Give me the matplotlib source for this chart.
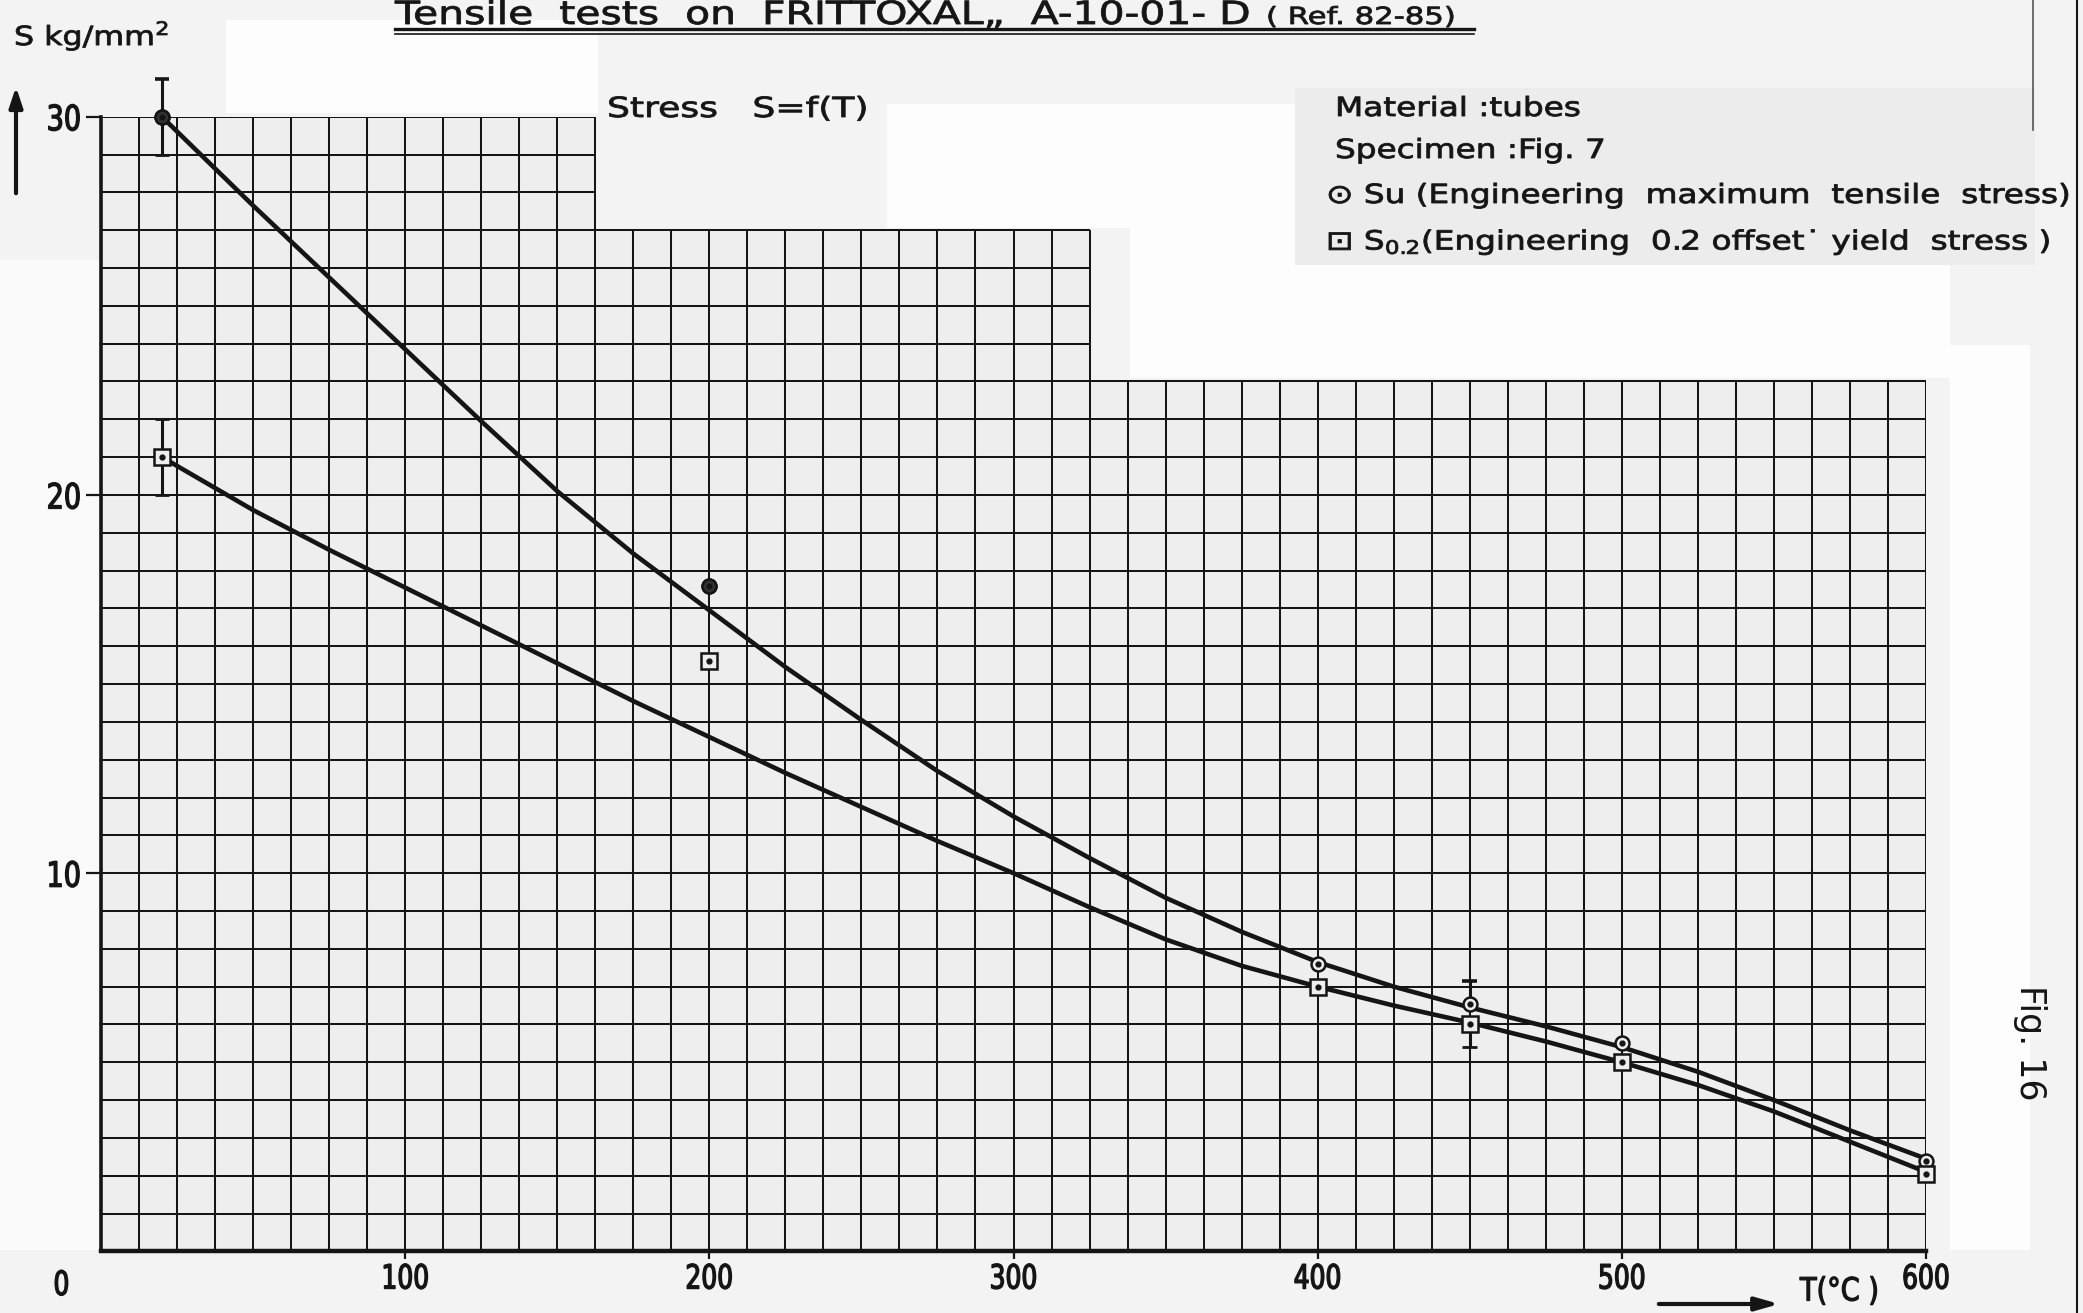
import matplotlib
matplotlib.use('Agg')
import matplotlib.pyplot as plt
from matplotlib.patches import Rectangle, FancyArrowPatch
from matplotlib.lines import Line2D
from matplotlib.patheffects import AbstractPathEffect
from matplotlib.transforms import Affine2D

# Measured points (temperature in deg C, stress in kg/mm2)
temps = [20, 200, 400, 450, 500, 600]
su_pts = [30.0, 17.6, 7.6, 6.55, 5.5, 2.4]
s02_pts = [21.0, 15.6, 7.0, 6.0, 5.0, 2.05]

# Scatter bands drawn as error bars
su_err_T = [20, 450]
su_err_low = [29.0, 6.55]
su_err_high = [31.0, 7.15]
s02_err_T = [20, 450]
s02_err_low = [20.0, 5.4]
s02_err_high = [22.0, 6.0]

# Hand drawn fitted curves
curve_T = [20, 50, 75, 100, 125, 150, 175, 200, 225, 250, 275, 300,
           325, 350, 375, 400, 425, 450, 475, 500, 525, 550, 575, 600]
su_curve = [30.0, 27.65, 25.75, 23.85, 21.95, 20.1, 18.45, 16.95, 15.45,
            14.05, 12.7, 11.5, 10.4, 9.35, 8.45, 7.65, 7.0, 6.45, 5.95,
            5.4, 4.75, 4.0, 3.2, 2.45]
s02_curve = [21.0, 19.6, 18.55, 17.55, 16.55, 15.55, 14.55, 13.6, 12.65,
             11.75, 10.85, 10.0, 9.1, 8.25, 7.55, 7.0, 6.5, 6.05, 5.55, 5.0,
             4.4, 3.7, 2.9, 2.1]

# Graph paper outline (stepped top edge)
paper_T = [0, 162.5, 162.5, 325, 325, 600]
paper_top = [30, 30, 27, 27, 23, 23]

x_ticks = [100, 200, 300, 400, 500, 600]
y_ticks = [10, 20, 30]

W, H = 2083, 1313
INK = '#151515'
PAPER = '#eeeeee'

plt.rcParams['font.family'] = ['DejaVu Sans']


# Stretch text horizontally (the drawing lettering is wider / narrower
# than any installed face) and give it a little more pen weight.
class Stretch(AbstractPathEffect):
    def __init__(self, sx, anchor='left', stroke=0.6):
        super().__init__()
        self.sx = sx
        self.anchor = anchor
        self.stroke = stroke

    def draw_path(self, renderer, gc, tpath, affine, rgbFace=None):
        ext = tpath.get_extents()
        if self.anchor == 'center':
            x0 = (ext.x0 + ext.x1) / 2
        elif self.anchor == 'right':
            x0 = ext.x1
        else:
            x0 = 0
        st = Affine2D().translate(-x0, 0).scale(self.sx, 1).translate(x0, 0)
        gc0 = renderer.new_gc()
        gc0.copy_properties(gc)
        gc0.set_linewidth(self.stroke)
        gc0.set_foreground(INK)
        gc0.set_joinstyle('round')
        renderer.draw_path(gc0, tpath, st + affine, rgbFace)
        gc0.restore()


def fx(px):
    return px / W


def fy(py):
    return 1 - py / H


fig = plt.figure(figsize=(W / 100, H / 100), dpi=100, facecolor='#f3f3f3')

# Light patches of the scanned page
for x0, y0, x1, y1, c in [(226, 20, 598, 113, '#fdfdfd'),
                          (887, 104, 1295, 228, '#fdfdfd'),
                          (1130, 228, 1950, 378, '#fdfdfd'),
                          (1950, 345, 2030, 1250, '#fdfdfd'),
                          (0, 260, 100, 1250, '#fafafa'),
                          (1295, 88, 2035, 265, '#ececec')]:
    fig.add_artist(Rectangle((fx(x0), fy(y1)), fx(x1 - x0), (y1 - y0) / H,
                             transform=fig.transFigure, color=c, lw=0,
                             zorder=0))

ax = fig.add_axes([fx(101), fy(1251.4), fx(1926 - 101), (1251.4 - 116.7) / H])
ax.set_facecolor('none')
ax.set_xlim(0, 600)
ax.set_ylim(0, 30)

# Graph paper
ax.fill_between(paper_T, 0, paper_top, color=PAPER, lw=0, zorder=0)
t = 0.0
while t <= 600:
    top = 30 if t <= 162.5 else (27 if t <= 325 else 23)
    ax.vlines(t, 0, top, color=INK, lw=1.45, zorder=1)
    t += 12.5
for s in range(1, 31):
    right = 600 if s <= 23 else (325 if s <= 27 else 162.5)
    ax.hlines(s, 0, right, color=INK, lw=1.45, zorder=1)

for side in ['top', 'right']:
    ax.spines[side].set_visible(False)
ax.spines['bottom'].set_linewidth(3.2)
ax.spines['left'].set_linewidth(2.6)
ax.spines['bottom'].set_color(INK)
ax.spines['left'].set_color(INK)
ax.spines['left'].set_bounds(0, 30)

ax.set_xticks(x_ticks)
ax.set_xticklabels([str(v) for v in x_ticks])
ax.set_yticks(y_ticks)
ax.set_yticklabels([str(v) for v in y_ticks])
ax.tick_params(axis='x', length=6, width=1.6, color=INK, pad=2,
               labelsize=24, labelcolor=INK)
ax.tick_params(axis='y', length=11, width=1.6, color=INK, pad=3,
               labelsize=25, labelcolor=INK)
for lab in ax.get_xticklabels():
    lab.set_path_effects([Stretch(0.75, 'center', 1.0)])
for lab in ax.get_yticklabels():
    lab.set_path_effects([Stretch(0.78, 'right', 1.0)])
ax.text(-13, -0.9, '0', ha='center', va='center', fontsize=24, color=INK,
        clip_on=False, path_effects=[Stretch(0.75, 'center', 1.0)])

# Curves
ax.plot(curve_T, su_curve, color=INK, lw=3.3, zorder=3,
        solid_capstyle='round', solid_joinstyle='round', clip_on=False)
ax.plot(curve_T, s02_curve, color=INK, lw=3.3, zorder=3,
        solid_capstyle='round', solid_joinstyle='round', clip_on=False)

# Scatter bands
for T, lo, hi in zip(su_err_T + s02_err_T, su_err_low + s02_err_low,
                     su_err_high + s02_err_high):
    ax.vlines(T, lo, hi, color=INK, lw=2.2, zorder=4, clip_on=False)
ax.hlines(su_err_high, [v - 2.4 for v in su_err_T],
          [v + 2.4 for v in su_err_T], color=INK, lw=2.6, zorder=4,
          clip_on=False)
ax.hlines(su_err_low[:1], [v - 2.4 for v in su_err_T[:1]],
          [v + 2.4 for v in su_err_T[:1]], color=INK, lw=2.0, zorder=4)
ax.hlines(s02_err_high[:1], [v - 2.4 for v in s02_err_T[:1]],
          [v + 2.4 for v in s02_err_T[:1]], color=INK, lw=2.0, zorder=4)
ax.hlines(s02_err_low, [v - 2.4 for v in s02_err_T],
          [v + 2.4 for v in s02_err_T], color=INK, lw=2.0, zorder=4)

# Markers (the two low-temperature ultimate points are inked solid)
ax.plot(temps, su_pts, 'o', ms=10, mfc=PAPER, mec=INK, mew=1.8, zorder=5,
        clip_on=False)
ax.plot(temps[:2], su_pts[:2], 'o', ms=10, mfc='#333333', mec=INK, mew=1.8,
        zorder=5, clip_on=False)
ax.plot(temps, su_pts, 'o', ms=3.5, color=INK, zorder=6, clip_on=False)
ax.plot(temps, s02_pts, 's', ms=11, mfc=PAPER, mec=INK, mew=1.8, zorder=5,
        clip_on=False)
ax.plot(temps, s02_pts, 'o', ms=3.5, color=INK, zorder=6, clip_on=False)

# Title with double underline
fig.text(fx(395), fy(24), 'Tensile  tests  on  FRITTOXAL\u201e  A-10-01- D',
         fontsize=23, color=INK, va='baseline', ha='left',
         path_effects=[Stretch(1.28)])
fig.text(fx(1266), fy(24), '( Ref. 82-85)', fontsize=17, color=INK,
         va='baseline', ha='left', path_effects=[Stretch(1.3)])
fig.add_artist(Line2D([fx(395), fx(1474)], [fy(29), fy(29)], lw=2.4,
                      color=INK, transform=fig.transFigure))
fig.add_artist(Line2D([fx(395), fx(1474)], [fy(33.5), fy(33.5)], lw=1.2,
                      color=INK, transform=fig.transFigure))

# Axis captions
fig.text(fx(14), fy(36), 'S kg/mm$^2$', fontsize=19, color=INK,
         va='center', ha='left', path_effects=[Stretch(1.2)])
fig.add_artist(FancyArrowPatch(
    (fx(16), fy(196)), (fx(16), fy(84)), transform=fig.transFigure,
    arrowstyle='-|>,head_length=12,head_width=4', lw=3, color=INK,
    mutation_scale=1))
fig.add_artist(FancyArrowPatch(
    (fx(1656), fy(1304)), (fx(1782), fy(1304)), transform=fig.transFigure,
    arrowstyle='-|>,head_length=14,head_width=4', lw=3, color=INK,
    mutation_scale=1))
fig.text(fx(1800), fy(1292), 'T(\u00b0C )', fontsize=23, color=INK,
         va='center', ha='left', path_effects=[Stretch(0.85, 'left', 0.9)])

fig.text(fx(607), fy(109), 'Stress   S=f(T)', fontsize=20, color=INK,
         va='center', ha='left', path_effects=[Stretch(1.3)])

# Key
key_fx = [Stretch(1.24)]
fig.text(fx(1335), fy(109), 'Material :tubes', fontsize=19, color=INK,
         va='center', ha='left', path_effects=key_fx)
fig.text(fx(1335), fy(151), 'Specimen :Fig. 7', fontsize=19, color=INK,
         va='center', ha='left', path_effects=key_fx)
fig.text(fx(1326), fy(196), '\u2299 Su (Engineering  maximum  tensile  stress)',
         fontsize=19, color=INK, va='center', ha='left', path_effects=key_fx)
fig.text(fx(1326), fy(242),
         '\u22a1 S$_{0.2}$(Engineering  0.2 offset\u02d9 yield  stress )',
         fontsize=19, color=INK, va='center', ha='left', path_effects=key_fx)

fig.text(fx(2030), fy(1043), 'Fig. 16', fontsize=25, color=INK,
         rotation=270, va='center', ha='center')

# Page edges
fig.add_artist(Line2D([fx(2077), fx(2077)], [fy(0), fy(1313)], lw=1.5,
                      color=INK, transform=fig.transFigure))
fig.add_artist(Line2D([fx(2033), fx(2033)], [fy(0), fy(130)], lw=1.2,
                      color='#555555', transform=fig.transFigure))

fig.savefig('out.png', dpi=100, facecolor=fig.get_facecolor())
